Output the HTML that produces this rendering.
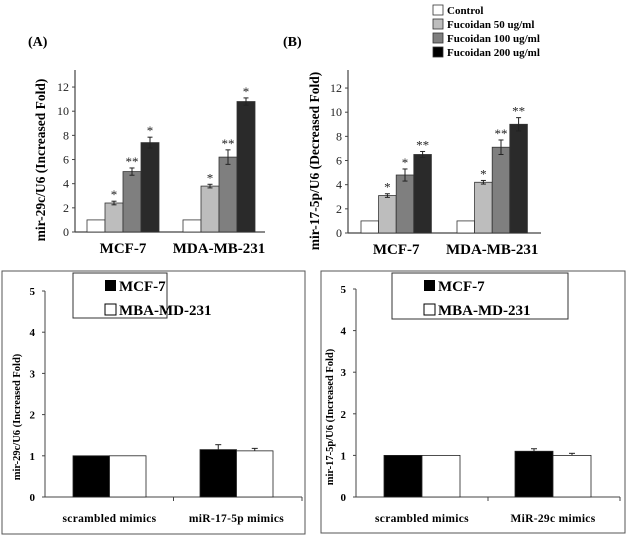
<!DOCTYPE html>
<html><head><meta charset="utf-8"><style>
body{margin:0;background:#fff;}
svg{display:block;font-family:"Liberation Serif",serif;font-weight:bold;}
</style></head><body>
<svg id="fig" width="626" height="536" viewBox="0 0 626 536"></svg>
<script>
// Panel A data
const groupsAB = ["MCF-7","MDA-MB-231"];
const seriesNames = ["Control","Fucoidan  50 ug/ml","Fucoidan 100 ug/ml","Fucoidan 200 ug/ml"];
const valuesA = [[1,2.4,5.0,7.4],[1,3.8,6.2,10.8]];
const errorsA = [[0,0.15,0.3,0.45],[0,0.15,0.6,0.3]];
const starsA = [["","*","**","*"],["","*","**","*"]];
// Panel B data
const valuesB = [[1,3.1,4.8,6.5],[1,4.2,7.1,9.0]];
const errorsB = [[0,0.15,0.5,0.25],[0,0.15,0.6,0.55]];
const starsB = [["","*","*","**"],["","*","**","**"]];
const ticksAB = [0,2,4,6,8,10,12];
// Panel C data
const groupsC = ["scrambled mimics","miR-17-5p  mimics"];
const valuesC_mcf = [1,1.15];
const valuesC_mda = [1,1.12];
const errorsC_mcf = [0,0.12];
const errorsC_mda = [0,0.06];
// Panel D data
const groupsD = ["scrambled mimics","MiR-29c mimics"];
const valuesD_mcf = [1,1.1];
const valuesD_mda = [1,1.0];
const errorsD_mcf = [0,0.06];
const errorsD_mda = [0,0.05];
const ticksCD = [0,1,2,3,4,5];

const svg = document.getElementById('fig');
const NS = "http://www.w3.org/2000/svg";
function el(tag, attrs, parent, text){
  const e = document.createElementNS(NS, tag);
  for (const k in attrs) e.setAttribute(k, attrs[k]);
  if (text !== undefined) e.textContent = text;
  (parent||svg).appendChild(e);
  return e;
}
const fills = ["#ffffff","#bdbdbd","#7f7f7f","#2a2a2a"];

function fuco(cfg){
  const g = el('g',{});
  
  
  const y = v => cfg.base - v * cfg.ppu;
  el('line',{x1:cfg.ax,y1:cfg.top,x2:cfg.ax,y2:cfg.base,stroke:'#444','stroke-width':1.2},g);
  el('line',{x1:cfg.ax,y1:cfg.base,x2:cfg.xend,y2:cfg.base,stroke:'#444','stroke-width':1.2},g);
  ticksAB.forEach(t=>{
    el('line',{x1:cfg.ax-3,y1:y(t),x2:cfg.ax,y2:y(t),stroke:'#444'},g);
    const tl = el('text',{x:cfg.ax-6,y:y(t)+4,'text-anchor':'end','font-size':12,'font-weight':'normal',fill:'#222'},g,t);
    
    
  });
  const bw = cfg.bw;
  groupsAB.forEach((gn,gi)=>{
    cfg.vals[gi].forEach((v,si)=>{
      const x = cfg.gx[gi] + si*bw;
      const r = el('rect',{x:x,y:y(v),width:bw,height:v*cfg.ppu,fill:fills[si],stroke:'#333','stroke-width':0.8},g);
      
      
      const e = cfg.errs[gi][si];
      if (e>0){
        const cx = x+bw/2;
        el('line',{x1:cx,y1:y(v+e),x2:cx,y2:y(v-e),stroke:'#222'},g);
        el('line',{x1:cx-2.5,y1:y(v+e),x2:cx+2.5,y2:y(v+e),stroke:'#222'},g);
        el('line',{x1:cx-2.5,y1:y(v-e),x2:cx+2.5,y2:y(v-e),stroke:'#222'},g);
      }
      const s = cfg.stars[gi][si];
      if (s){ el('text',{x:x+bw/2,y:y(v+e)-2,'text-anchor':'middle','font-size':13,'font-weight':'normal',fill:'#222'},g,s); }
    });
    const lbl = el('text',{x:cfg.gx[gi]+2*bw,y:cfg.base+21,'text-anchor':'middle','font-size':15},g,gn);
    
    
  });
  const t = el('text',{transform:`translate(${cfg.tx},${cfg.base-72}) rotate(-90)`,'text-anchor':'middle','font-size':13.5},g,cfg.title);
  
  
}
fuco({name:'chart-a',ax:75,base:232,ppu:12.08,top:70,xend:265,gx:[87,183],bw:18,vals:valuesA,errs:errorsA,stars:starsA,tx:45,title:'mir-29c/U6 (Increased Fold)'});
fuco({name:'chart-b',ax:348,base:233,ppu:12.08,top:70,xend:541,gx:[361,457],bw:17.6,vals:valuesB,errs:errorsB,stars:starsB,tx:319,title:'mir-17-5p/U6 (Decreased Fold)'});

let pa = el('text',{x:28,y:46,'font-size':14},svg,'(A)');
 
let pb = el('text',{x:283,y:46,'font-size':14},svg,'(B)');
 

// legend top
const lg = el('g',{});


seriesNames.forEach((n,i)=>{
  const yy = 5 + i*14;
  el('rect',{x:433,y:yy,width:10,height:10,fill:fills[i]==='#2a2a2a'?'#000':fills[i],stroke:'#333','stroke-width':0.8},lg);
  const t = el('text',{x:447,y:yy+9,'font-size':11,'xml:space':'preserve'},lg,n);
  
  
});

function mimic(cfg){
  const g = el('g',{});
  
  
  el('rect',{x:cfg.box[0],y:cfg.box[1],width:cfg.box[2],height:cfg.box[3],fill:'none',stroke:'#555','stroke-width':1},g);
  const y = v => cfg.base - v*cfg.ppu;
  el('line',{x1:cfg.ax,y1:y(5),x2:cfg.ax,y2:cfg.base,stroke:'#444'},g);
  el('line',{x1:cfg.ax,y1:cfg.base,x2:cfg.xend,y2:cfg.base,stroke:'#444'},g);
  el('line',{x1:(cfg.ax+cfg.xend)/2,y1:cfg.base,x2:(cfg.ax+cfg.xend)/2,y2:cfg.base+4,stroke:'#444'},g);
  el('line',{x1:cfg.xend,y1:cfg.base,x2:cfg.xend,y2:cfg.base+4,stroke:'#444'},g);
  ticksCD.forEach(t=>{
    el('line',{x1:cfg.ax-3,y1:y(t),x2:cfg.ax,y2:y(t),stroke:'#444'},g);
    const tl = el('text',{x:cfg.ax-10,y:y(t)+4,'text-anchor':'end','font-size':11},g,t);
    
    
  });
  const bw = cfg.bw;
  cfg.groups.forEach((gn,gi)=>{
    [[cfg.mcf,cfg.emcf,'#000'],[cfg.mda,cfg.emda,'#fff']].forEach((s,si)=>{
      const v = s[0][gi], e = s[1][gi];
      const x = cfg.gx[gi] + si*bw;
      const r = el('rect',{x:x,y:y(v),width:bw,height:v*cfg.ppu,fill:s[2],stroke:'#222','stroke-width':0.8},g);
      
      
      if (e>0){
        const cx = x+bw/2;
        el('line',{x1:cx,y1:y(v+e),x2:cx,y2:y(v),stroke:'#222'},g);
        el('line',{x1:cx-3,y1:y(v+e),x2:cx+3,y2:y(v+e),stroke:'#222'},g);
      }
    });
    const lbl = el('text',{x:cfg.gx[gi]+bw,y:cfg.base+25,'text-anchor':'middle','font-size':11.5,'letter-spacing':'0.3'},g,gn);
    
    
  });
  const t = el('text',{transform:`translate(${cfg.tx},${cfg.base-80}) rotate(-90)`,'text-anchor':'middle','font-size':10.5},g,cfg.title);
  
  
  const L = cfg.leg;
  const lgb = el('g',{},g);
  
  
  el('rect',{x:L[0],y:L[1],width:L[2],height:L[3],fill:'#fff',stroke:'#333'},lgb);
  el('rect',{x:L[0]+32,y:L[1]+7,width:11,height:11,fill:'#000'},lgb);
  el('text',{x:L[0]+46,y:L[1]+18,'font-size':15},lgb,'MCF-7');
  el('rect',{x:L[0]+32,y:L[1]+31,width:11,height:11,fill:'#fff',stroke:'#000'},lgb);
  el('text',{x:L[0]+46,y:L[1]+42,'font-size':15},lgb,'MBA-MD-231');
}
mimic({name:'chart-c',box:[2,271,303,263],ax:45,base:497,ppu:41.2,xend:302,bw:36.5,gx:[73,200],groups:groupsC,mcf:valuesC_mcf,mda:valuesC_mda,emcf:errorsC_mcf,emda:errorsC_mda,tx:20,title:'mir-29c/U6 (Increased Fold)',leg:[73,273,94,45]});
mimic({name:'chart-d',box:[321,271,304,262],ax:356,base:497,ppu:41.6,xend:620,bw:38,gx:[384,515],groups:groupsD,mcf:valuesD_mcf,mda:valuesD_mda,emcf:errorsD_mcf,emda:errorsD_mda,tx:333,title:'mir-17-5p/U6 (Increased Fold)',leg:[392,273,176,46]});
</script>
</body></html>
